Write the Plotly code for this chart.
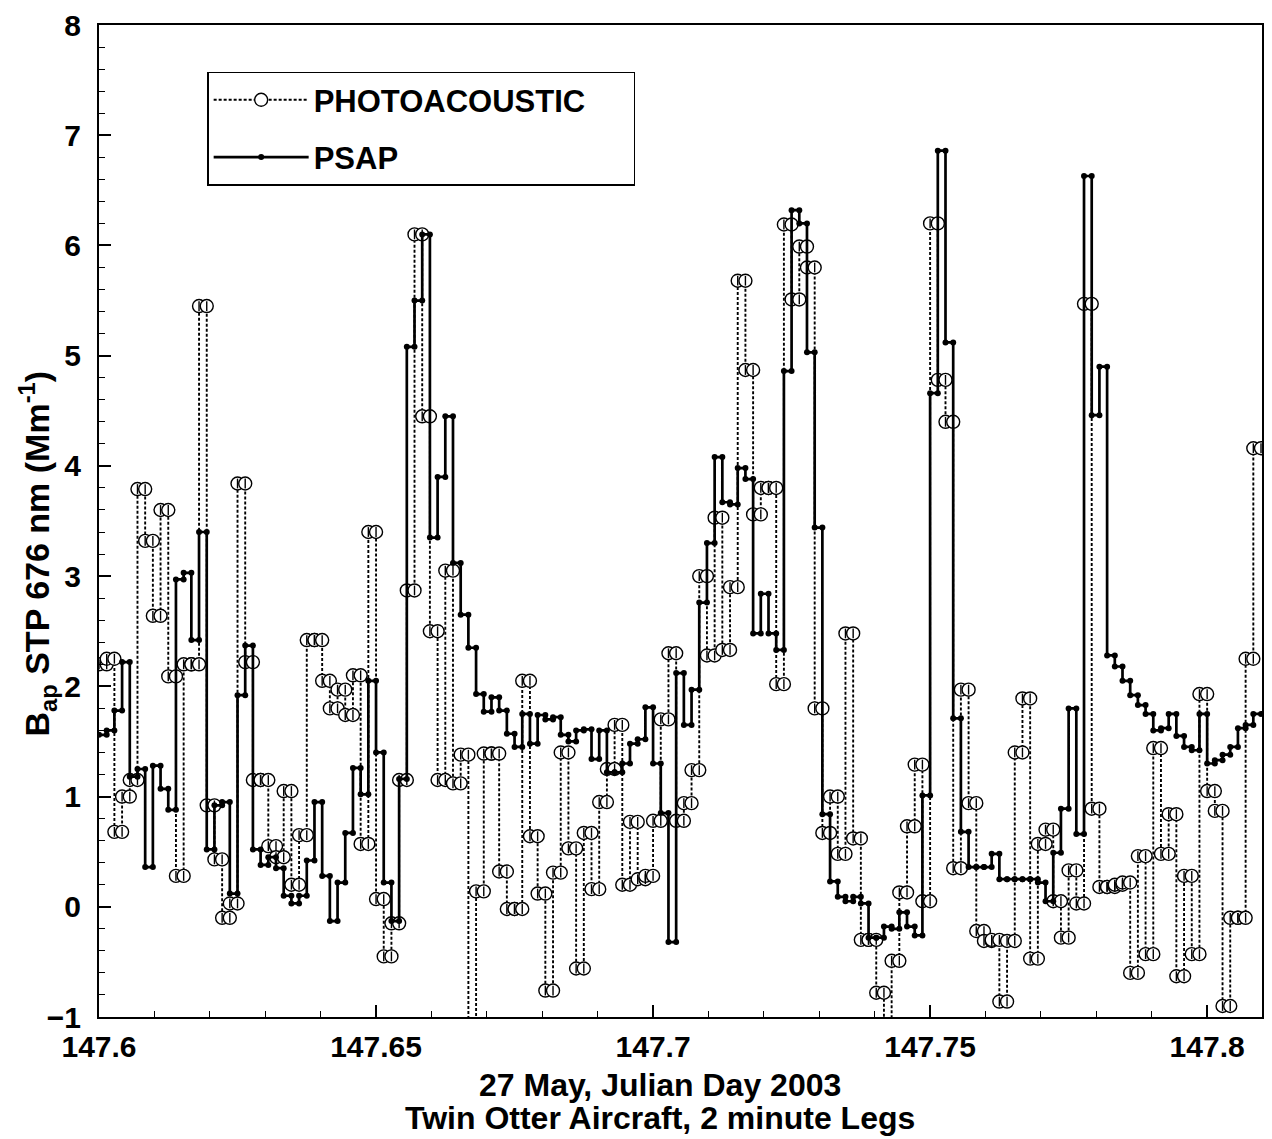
import plotly.graph_objects as go

# ---- data (one value per 2-minute leg) ----
leg_start_day = 147.6
leg_minutes = 2

psap = [1.56, 1.6, 1.78, 2.22, 1.18, 1.25, 0.36, 1.28, 1.07, 0.88,
        2.97, 3.03, 2.42, 3.4, 0.52, 0.92, 0.95, 0.12, 1.92, 2.37,
        0.52, 0.38, 0.45, 0.35, 0.1, 0.03, 0.1, 0.42, 0.95, 0.28,
        -0.13, 0.22, 0.67, 1.26, 1.02, 2.05, 1.4, 0.22, -0.13, 1.16,
        5.08, 5.5, 6.1, 3.35, 3.9, 4.45, 3.12, 2.65, 2.35, 1.93,
        1.77, 1.9, 1.78, 1.57, 1.45, 1.75, 1.48, 1.74, 1.7, 1.72,
        1.56, 1.5, 1.6, 1.61, 1.34, 1.6, 1.22, 1.22, 1.3, 1.48,
        1.52, 1.81, 1.3, 0.85, -0.32, 2.12, 1.65, 1.97, 2.76, 3.3,
        4.08, 3.67, 3.65, 3.98, 3.88, 2.48, 2.84, 2.48, 2.33, 4.86,
        6.32, 6.2, 5.03, 3.44, 0.84, 0.23, 0.09, 0.05, 0.09, 0.03,
        -0.28, -0.28, -0.18, -0.2, -0.05, -0.18, -0.26, 1.01, 4.66, 6.86,
        5.12, 1.71, 0.68, 0.36, 0.36, 0.36, 0.48, 0.25, 0.25, 0.25,
        0.25, 0.25, 0.22, 0.05, 0.49, 0.89, 1.8, 0.66, 6.63, 4.46,
        4.9, 2.28, 2.18, 2.05, 1.92, 1.83, 1.75, 1.6, 1.62, 1.75,
        1.55, 1.45, 1.42, 1.75, 1.3, 1.33, 1.38, 1.45, 1.62, 1.65,
        1.75]

photoacoustic = [2.2, 2.25, 0.68, 1.0, 1.15, 3.79, 3.32, 2.64, 3.6, 2.09,
                 0.28, 2.2, 2.2, 5.45, 0.92, 0.43, -0.1, 0.03, 3.84, 2.22,
                 1.15, 1.15, 0.55, 0.45, 1.05, 0.2, 0.65, 2.42, 2.42, 2.05,
                 1.8, 1.97, 1.74, 2.1, 0.57, 3.4, 0.07, -0.45, -0.15, 1.15,
                 2.87, 6.1, 4.45, 2.5, 1.15, 3.05, 1.12, 1.38, -1.5, 0.14,
                 1.39, 1.39, 0.32, -0.02, -0.02, 2.05, 0.64, 0.12, -0.76, 0.31,
                 1.4, 0.53, -0.56, 0.67, 0.16, 0.95, 1.25, 1.65, 0.2, 0.77,
                 0.25, 0.28, 0.78, 1.7, 2.3, 0.78, 0.94, 1.24, 3.0, 2.28,
                 3.53, 2.33, 2.9, 5.68, 4.87, 3.56, 3.8, 3.8, 2.02, 6.19,
                 5.51, 5.99, 5.8, 1.8, 0.67, 1.0, 0.48, 2.48, 0.62, -0.3,
                 -0.3, -0.78, -1.5, -0.49, 0.13, 0.73, 1.29, 0.05, 6.2, 4.78,
                 4.4, 0.35, 1.97, 0.94, -0.22, -0.31, -0.3, -0.86, -0.31, 1.4,
                 1.89, -0.47, 0.57, 0.7, 0.05, -0.28, 0.33, 0.03, 5.47, 0.89,
                 0.18, 0.18, 0.2, 0.22, -0.6, 0.46, -0.43, 1.44, 0.48, 0.84,
                 -0.63, 0.28, -0.43, 1.93, 1.05, 0.87, -0.9, -0.1, -0.1, 2.25,
                 4.16]

x_tick_values = [147.6, 147.65, 147.7, 147.75, 147.8]
x_tick_labels = ["147.6", "147.65", "147.7", "147.75", "147.8"]
y_tick_values = [-1, 0, 1, 2, 3, 4, 5, 6, 7, 8]
x_range = [147.6, 147.8099]
y_range = [-1, 8]

x_title_lines = ["27 May, Julian Day 2003", "Twin Otter Aircraft, 2 minute Legs"]
y_title = "B<sub>ap</sub> STP 676 nm (Mm<sup>-1</sup>)"
series_names = ["PHOTOACOUSTIC", "PSAP"]


def step_xy(values):
    d = leg_minutes / 1440.0
    xs, ys = [], []
    for i, v in enumerate(values):
        t0 = leg_start_day + i * d
        xs += [t0, t0 + d]
        ys += [v, v]
    return xs, ys


pa_x, pa_y = step_xy(photoacoustic)
ps_x, ps_y = step_xy(psap)

FONT = "Liberation Sans, Arial, Helvetica, sans-serif"
PAD = "\u00a0" * 5

fig = go.Figure()

fig.add_trace(go.Scatter(
    x=pa_x, y=pa_y, mode="lines+markers", name=series_names[0] + PAD,
    legendgroup="pa",
    line=dict(color="black", width=1.9, dash="3px,2px"),
    marker=dict(symbol="circle", size=13, color="white",
                line=dict(color="black", width=1.4)),
))
fig.add_trace(go.Scatter(
    x=pa_x, y=pa_y, mode="markers", showlegend=False, legendgroup="pa",
    hoverinfo="skip",
    marker=dict(symbol="line-ns-open", size=7, color="black",
                line=dict(color="black", width=1.4)),
))
fig.add_trace(go.Scatter(
    x=ps_x, y=ps_y, mode="lines+markers", name=series_names[1],
    legendgroup="ps",
    line=dict(color="black", width=2.7),
    marker=dict(symbol="circle", size=6, color="black"),
))

axis_common = dict(
    showline=True, linecolor="black", linewidth=2, mirror=True,
    ticks="inside", ticklen=12, tickwidth=1.5, tickcolor="black",
    showgrid=False, zeroline=False,
    tickfont=dict(family=FONT, size=30, color="black", weight="bold"),
)

fig.update_xaxes(
    range=x_range, tickvals=x_tick_values, ticktext=x_tick_labels,
    minor=dict(ticks="inside", dtick=0.01, tick0=147.6, ticklen=6,
               tickwidth=1, tickcolor="black", showgrid=False),
    ticklabelstandoff=2,
    **axis_common,
)
fig.update_yaxes(
    range=y_range, tickvals=y_tick_values,
    minor=dict(ticks="inside", dtick=0.2, tick0=0, ticklen=6,
               tickwidth=1, tickcolor="black", showgrid=False),
    ticklabelstandoff=10,
    **axis_common,
)

title_font = dict(family=FONT, size=32, color="black", weight="bold")
annotations = [
    dict(text=x_title_lines[0], xref="paper", yref="paper",
         x=0.482, y=-0.069, xanchor="center", yanchor="middle",
         showarrow=False, font=title_font),
    dict(text=x_title_lines[1], xref="paper", yref="paper",
         x=0.482, y=-0.102, xanchor="center", yanchor="middle",
         showarrow=False, font=title_font),
    dict(text=y_title, xref="paper", yref="paper",
         x=-0.053, y=0.4675, xanchor="center", yanchor="middle",
         textangle=-90, showarrow=False,
         font=dict(family=FONT, size=34, color="black", weight="bold")),
]

fig.update_layout(
    width=1272, height=1139,
    margin=dict(l=99, r=8, t=18, b=122),
    paper_bgcolor="white", plot_bgcolor="white",
    font=dict(family=FONT, color="black", weight="bold"),
    showlegend=True,
    annotations=annotations,
    legend=dict(
        x=0.093, y=0.953, xanchor="left", yanchor="top",
        bgcolor="white", bordercolor="black", borderwidth=1.5,
        font=dict(family=FONT, size=31, color="black", weight="bold"),
        itemwidth=95, tracegroupgap=14,
    ),
)

fig.write_html("out.html")
